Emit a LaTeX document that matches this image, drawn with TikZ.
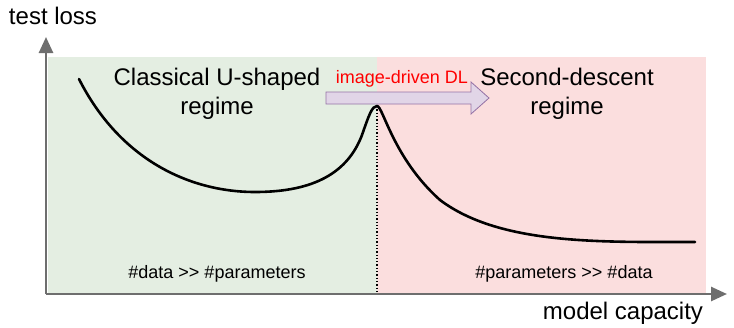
\documentclass[tikz,border=0pt]{standalone}
\usepackage{fontspec}
\setmainfont{Liberation Sans}
\usetikzlibrary{arrows.meta}
\definecolor{greenbg}{HTML}{E4EEE2}
\definecolor{redbg}{HTML}{FBDEDE}
\definecolor{axisgray}{HTML}{6E6E6E}
\definecolor{arrowfill}{HTML}{E1D5E7}
\definecolor{arrowdraw}{HTML}{9673A6}
\begin{document}
\begin{tikzpicture}[x=1pt,y=-1pt,
  bigtxt/.style={font=\fontsize{24}{29}\selectfont, align=center, inner sep=0pt},
  smalltxt/.style={font=\fontsize{18}{21}\selectfont, inner sep=0pt},
  axis/.style={draw=axisgray, line width=2.6pt, -{Triangle[length=16pt,width=14pt]}}]
\useasboundingbox (0,0) rectangle (734,327);
% regions
\fill[greenbg] (48,57) rectangle (377,293);
\fill[redbg] (377,57) rectangle (706,293);
% axes
\coordinate (o) at (46,294);
\coordinate (ytip) at (46,37);
\coordinate (xtip) at (727,294);
\draw[axis] (o) -- (ytip);
\draw[axis] (o) -- (xtip);
% dotted line
\coordinate (peak) at (377,106);
\coordinate (peakfoot) at (377,293);
\draw[line width=1.3pt, dotted] (peak) -- (peakfoot);
% curve
\draw[line width=2.6pt, line cap=round]
  (79,79) .. controls (120,160) and (190,192) .. (255,192)
  .. controls (315,192) and (348,172) .. (362,135)
  .. controls (369,115) and (372,106) .. (peak)
  .. controls (383,106) and (393,158) .. (440,200)
  .. controls (500,245) and (600,242) .. (695,242);
% block arrow
\draw[fill=arrowfill, draw=arrowdraw, line width=0.8pt]
  (326,92) -- (471,92) -- (471,82) -- (489,98) -- (471,114) -- (471,104) -- (326,104) -- cycle;
% labels
\node[smalltxt, text=red] (idl) at (402,79) {image-driven DL};
\node[bigtxt] (classic) at (217,94) {Classical U-shaped\\regime};
\node[bigtxt] (second) at (567,94) {Second-descent\\regime};
\node[smalltxt] (dl) at (217,274) {\#data >{}> \#parameters};
\node[smalltxt] (dr) at (564,274) {\#parameters >{}> \#data};
\node[bigtxt] (ylab) at (53,16) {test loss};
\node[bigtxt] (xlab) at (623,313) {model capacity};
\end{tikzpicture}
\end{document}
